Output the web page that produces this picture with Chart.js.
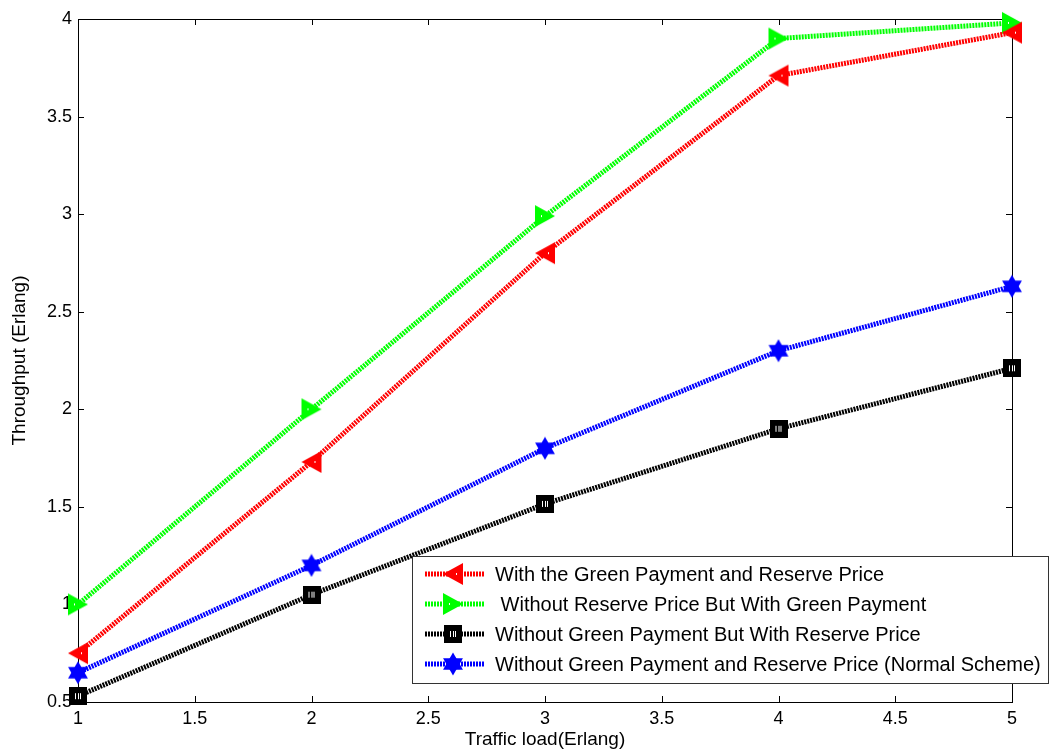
<!DOCTYPE html>
<html>
<head>
<meta charset="utf-8">
<script src="https://cdn.jsdelivr.net/npm/chart.js@4.4.1/dist/chart.umd.min.js"></script>
<style>
  html, body { margin: 0; padding: 0; background: #fff; }
  #wrap { width: 1050px; height: 751px; }
</style>
</head>
<body>
<div id="wrap"><canvas id="grafico"></canvas></div>
<script>
const cargas = [1, 2, 3, 4, 5]
const conVerdeYReserva = [0.75, 1.73, 2.80, 3.71, 3.93]
const sinReservaConVerde = [1.00, 2.00, 2.99, 3.90, 3.98]
const sinVerdeConReserva = [0.53, 1.05, 1.515, 1.90, 2.21]
const esquemaNormal = [0.65, 1.20, 1.80, 2.30, 2.63]
const ticksX = [1, 1.5, 2, 2.5, 3, 3.5, 4, 4.5, 5]
const ticksY = [0.5, 1, 1.5, 2, 2.5, 3, 3.5, 4]
const etiquetas = [
    'With the Green Payment and Reserve Price',
    ' Without Reserve Price But With Green Payment',
    'Without Green Payment But With Reserve Price',
    'Without Green Payment and Reserve Price (Normal Scheme)'
]

const fuente = "'Liberation Sans', Arial, sans-serif"

// marcadores dibujados a mano
const lienzo = (w, h, dibujar) => {
    const c = document.createElement('canvas')
    c.width = w; c.height = h
    dibujar(c.getContext('2d'))
    return c
}
const trianguloIzq = lienzo(22, 24, ctx => {
    ctx.fillStyle = '#ff0000'
    ctx.beginPath(); ctx.moveTo(1, 12); ctx.lineTo(21, 1); ctx.lineTo(21, 23); ctx.closePath(); ctx.fill()
    ctx.fillStyle = '#fff'; ctx.fillRect(14, 11, 1, 2)
})
const trianguloDer = lienzo(22, 24, ctx => {
    ctx.fillStyle = '#00ff00'
    ctx.beginPath(); ctx.moveTo(21, 12); ctx.lineTo(1, 1); ctx.lineTo(1, 23); ctx.closePath(); ctx.fill()
    ctx.fillStyle = '#fff'; ctx.fillRect(7, 11, 1, 2)
})
const cuadrado = lienzo(18, 18, ctx => {
    ctx.fillStyle = '#000'; ctx.fillRect(0, 0, 18, 18)
    ctx.fillStyle = '#fff'
    ctx.fillRect(6, 6, 1, 6); ctx.fillRect(9, 6, 1, 6); ctx.fillRect(11, 6, 1, 6)
})
const estrella = lienzo(22, 24, ctx => {
    ctx.fillStyle = '#0000ff'
    const cx = 11, cy = 12, r = 11.5
    const tri = (giro) => {
        ctx.beginPath()
        for (let k = 0; k < 3; k++) {
            const a = giro + k * 2 * Math.PI / 3
            const x = cx + r * Math.sin(a), y = cy - r * Math.cos(a)
            k === 0 ? ctx.moveTo(x, y) : ctx.lineTo(x, y)
        }
        ctx.closePath(); ctx.fill()
    }
    tri(0); tri(Math.PI)
})

const series = [
    { datos: conVerdeYReserva, color: '#ff0000', marca: trianguloIzq },
    { datos: sinReservaConVerde, color: '#00ff00', marca: trianguloDer },
    { datos: sinVerdeConReserva, color: '#000000', marca: cuadrado },
    { datos: esquemaNormal, color: '#0000ff', marca: estrella }
]

const marcoYLeyenda = {
    id: 'marcoYLeyenda',
    beforeDatasetsDraw(chart) {
        const { ctx, chartArea: a, scales } = chart
        ctx.save()
        ctx.strokeStyle = '#000'
        ctx.lineWidth = 1
        ctx.strokeRect(Math.round(a.left) + 0.5, Math.round(a.top) + 0.5, Math.round(a.right - a.left), Math.round(a.bottom - a.top))
        ctx.beginPath()
        ticksX.forEach(v => {
            const x = Math.round(scales.x.getPixelForValue(v)) + 0.5
            ctx.moveTo(x, a.bottom); ctx.lineTo(x, a.bottom - 6)
            ctx.moveTo(x, a.top); ctx.lineTo(x, a.top + 6)
        })
        ticksY.forEach(v => {
            const y = Math.round(scales.y.getPixelForValue(v)) + 0.5
            ctx.moveTo(a.left, y); ctx.lineTo(a.left + 6, y)
            ctx.moveTo(a.right, y); ctx.lineTo(a.right - 6, y)
        })
        ctx.stroke()
        ctx.restore()
    },
    afterDraw(chart) {
        const { ctx } = chart
        ctx.save()
        ctx.fillStyle = '#fff'
        ctx.fillRect(412, 556, 636, 127)
        ctx.strokeStyle = '#333'
        ctx.lineWidth = 1
        ctx.strokeRect(412.5, 556.5, 636, 127)
        ctx.font = '20px ' + fuente
        ctx.textBaseline = 'middle'
        series.forEach((s, i) => {
            const y = 574 + i * 30
            ctx.strokeStyle = s.color
            ctx.lineWidth = 5
            ctx.setLineDash([2, 1])
            ctx.beginPath(); ctx.moveTo(425, y); ctx.lineTo(485, y); ctx.stroke()
            ctx.setLineDash([])
            ctx.drawImage(s.marca, 453 - s.marca.width / 2, y - s.marca.height / 2)
            ctx.fillStyle = '#000'
            ctx.fillText(etiquetas[i], 495, y + 1)
        })
        ctx.restore()
    }
}

new Chart(document.getElementById('grafico').getContext('2d'), {
    type: 'line',
    data: {
        labels: cargas,
        datasets: series.map((s, i) => ({
            label: etiquetas[i],
            data: cargas.map((c, j) => ({ x: c, y: s.datos[j] })),
            borderColor: s.color,
            backgroundColor: s.color,
            borderWidth: 5,
            borderDash: [2, 1],
            pointStyle: s.marca,
            pointRadius: 11,
            pointHoverRadius: 11,
            tension: 0,
            clip: false
        }))
    },
    options: {
        responsive: true,
        maintainAspectRatio: false,
        animation: false,
        events: [],
        layout: { padding: { top: 19, right: 38, left: 0, bottom: 0 } },
        plugins: { legend: { display: false }, tooltip: { enabled: false } },
        scales: {
            x: {
                type: 'linear', min: 1, max: 5,
                afterBuildTicks: scale => { scale.ticks = ticksX.map(v => ({ value: v })) },
                afterFit: scale => { scale.height = 49 },
                grid: { display: false, drawTicks: false },
                border: { display: false },
                ticks: { color: '#000', font: { family: fuente, size: 18 }, padding: 6, maxRotation: 0, autoSkip: false,
                    callback: v => String(v) },
                title: { display: true, text: 'Traffic load(Erlang)', color: '#000', font: { family: fuente, size: 19 }, padding: { top: 0, bottom: 0 } }
            },
            y: {
                min: 0.5, max: 4,
                afterBuildTicks: scale => { scale.ticks = ticksY.map(v => ({ value: v })) },
                afterFit: scale => { scale.width = 78 },
                grid: { display: false, drawTicks: false },
                border: { display: false },
                ticks: { color: '#000', font: { family: fuente, size: 18 }, padding: 6, autoSkip: false,
                    callback: v => String(v) },
                title: { display: true, text: 'Throughput (Erlang)', color: '#000', font: { family: fuente, size: 19 }, padding: { top: 8, bottom: 0 } }
            }
        }
    },
    plugins: [marcoYLeyenda]
})
</script>
</body>
</html>
